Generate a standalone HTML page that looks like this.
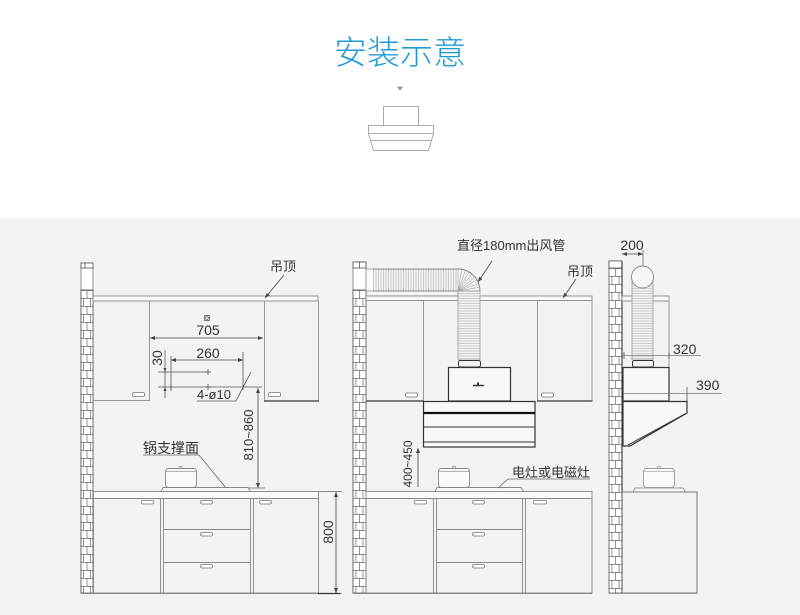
<!DOCTYPE html>
<html><head><meta charset="utf-8">
<style>
html,body{margin:0;padding:0;background:#fff;}
svg{display:block;}
text{font-family:"Liberation Sans","Noto Sans CJK SC",sans-serif;fill:#333;}
</style></head>
<body>
<svg width="800" height="615" viewBox="0 0 800 615" xmlns="http://www.w3.org/2000/svg">
<defs>
  <pattern id="brL" x="81" y="290" width="12" height="16" patternUnits="userSpaceOnUse">
    <rect width="12" height="16" fill="#fff"/>
    <path d="M0 0.5H12M0 8.5H12M6 0.5V8.5M2.5 8.5V16M9.5 8.5V16" stroke="#666" stroke-width="0.7" fill="none"/>
  </pattern>
  <pattern id="brM" x="353" y="290" width="13" height="16" patternUnits="userSpaceOnUse">
    <rect width="13" height="16" fill="#fff"/>
    <path d="M0 0.5H13M0 8.5H13M6.5 0.5V8.5M3 8.5V16M10 8.5V16" stroke="#666" stroke-width="0.7" fill="none"/>
  </pattern>
  <pattern id="brR" x="609" y="268" width="13" height="16" patternUnits="userSpaceOnUse">
    <rect width="13" height="16" fill="#fff"/>
    <path d="M0 0.5H13M0 8.5H13M6.5 0.5V8.5M3 8.5V16M10 8.5V16" stroke="#666" stroke-width="0.7" fill="none"/>
  </pattern>
  <pattern id="vstripe" x="0" y="0" width="2.5" height="4" patternUnits="userSpaceOnUse">
    <rect width="2.5" height="4" fill="#f2f2f2"/>
    <line x1="1" y1="0" x2="1" y2="4" stroke="#a8a8a8" stroke-width="0.5"/>
  </pattern>
  <pattern id="hstripe" x="0" y="0" width="4" height="2.5" patternUnits="userSpaceOnUse">
    <rect width="4" height="2.5" fill="#f2f2f2"/>
    <line x1="0" y1="1" x2="4" y2="1" stroke="#a8a8a8" stroke-width="0.5"/>
  </pattern>
  <marker id="ar" viewBox="0 0 10 10" refX="10" refY="5" markerWidth="5" markerHeight="5" orient="auto-start-reverse" markerUnits="userSpaceOnUse">
    <path d="M0 1L10 5L0 9Z" fill="#444"/>
  </marker>
</defs>

<!-- backgrounds -->
<rect x="0" y="0" width="800" height="218" fill="#fff"/>
<rect x="0" y="218" width="800" height="397" fill="#f3f3f3"/>

<!-- title -->
<text x="400" y="64" font-size="33" text-anchor="middle" style="fill:#1e9ad6;font-family:'Liberation Sans','Noto Sans CJK SC',sans-serif;font-weight:300">安装示意</text>
<path d="M397 86.5H403L400 91Z" fill="#999"/>
<g stroke="#aaa" stroke-width="1" fill="#fff">
  <rect x="383.5" y="106.5" width="35" height="19"/>
  <rect x="368.5" y="125.5" width="65" height="8"/>
  <path d="M368.5 133.5H433.5L428.5 150.5H373.5Z"/>
  <line x1="370" y1="140.5" x2="432" y2="140.5"/>
</g>

<!-- ================= LEFT DIAGRAM ================= -->
<g>
  <rect x="81" y="263" width="12" height="330" fill="#fff" stroke="#777" stroke-width="0.8"/>
  <rect x="81" y="290" width="12" height="303" fill="url(#brL)" stroke="#555" stroke-width="0.8"/>
  <rect x="81" y="263" width="12" height="5" fill="#fff" stroke="#555" stroke-width="0.8"/>
  <line x1="85" y1="263" x2="85" y2="268" stroke="#555" stroke-width="0.8"/>
  <!-- ceiling -->
  <rect x="93" y="296" width="225" height="5" fill="#fafafa" stroke="#888" stroke-width="0.9"/>
  <!-- upper cabinets -->
  <g stroke="#999" stroke-width="1" fill="none">
    <path d="M149.5 301V400.5H93"/>
    <path d="M264.5 301V401M318.5 301V401"/>
  </g>
  <line x1="264" y1="401" x2="319" y2="401" stroke="#555" stroke-width="1.6"/>
  <rect x="132.5" y="392.5" width="12" height="4" rx="1.5" fill="#fff" stroke="#777" stroke-width="0.8"/>
  <rect x="268.5" y="392.5" width="12" height="4" rx="1.5" fill="#fff" stroke="#777" stroke-width="0.8"/>
  <!-- 705 -->
  <rect x="204.5" y="315.5" width="5" height="5" fill="none" stroke="#444" stroke-width="0.7"/>
  <circle cx="207" cy="318" r="1.4" fill="none" stroke="#444" stroke-width="0.6"/>
  <text x="208" y="335" font-size="14" text-anchor="middle">705</text>
  <line x1="150" y1="338" x2="263" y2="338" stroke="#444" stroke-width="0.8" marker-start="url(#ar)" marker-end="url(#ar)"/>
  <!-- 260 -->
  <text x="208" y="358" font-size="14" text-anchor="middle">260</text>
  <line x1="171" y1="360" x2="243" y2="360" stroke="#444" stroke-width="0.8" marker-start="url(#ar)" marker-end="url(#ar)"/>
  <g stroke="#555" stroke-width="0.8">
    <line x1="171" y1="356" x2="171" y2="391"/>
    <line x1="243" y1="352" x2="243" y2="389"/>
    <line x1="158" y1="372" x2="208" y2="372"/>
    <line x1="158" y1="387" x2="262" y2="387"/>
    <line x1="165" y1="350" x2="165" y2="398"/>
    <line x1="205" y1="372" x2="211" y2="372"/><line x1="208" y1="369" x2="208" y2="375"/>
    <line x1="205" y1="387" x2="211" y2="387"/><line x1="208" y1="384" x2="208" y2="390"/>
    <line x1="171" y1="384" x2="171" y2="390"/>
    <line x1="243" y1="384" x2="243" y2="390"/>
  </g>
  <path d="M163.5 368L165 372L166.5 368Z" fill="#444"/>
  <path d="M163.5 391L165 387L166.5 391Z" fill="#444"/>
  <text transform="translate(162,358) rotate(-90)" font-size="14" text-anchor="middle">30</text>
  <!-- 4-ø10 -->
  <text x="197" y="399" font-size="13">4-ø10</text>
  <path d="M197 401H236L251 372" stroke="#555" stroke-width="0.8" fill="none"/>
  <!-- 810~860 -->
  <line x1="258" y1="388" x2="258" y2="488" stroke="#444" stroke-width="0.8" marker-start="url(#ar)" marker-end="url(#ar)"/>
  <text transform="translate(253,435) rotate(-90)" font-size="13" text-anchor="middle">810~860</text>
  <line x1="230" y1="488" x2="265" y2="488" stroke="#666" stroke-width="0.8"/>
  <!-- 吊顶 -->
  <text x="270" y="271" font-size="13">吊顶</text>
  <line x1="284" y1="275" x2="265" y2="298" stroke="#444" stroke-width="0.8" marker-end="url(#ar)"/>
  <!-- 锅支撑面 -->
  <text x="143" y="453" font-size="14">锅支撑面</text>
  <path d="M143 455H199L226 488" stroke="#666" stroke-width="0.8" fill="none"/>
  <!-- pot & cooktop -->
  <path d="M161 491.5L163 487.5H248L250.5 491.5" fill="#f8f8f8" stroke="#888" stroke-width="0.9"/>
  <rect x="165.5" y="468.5" width="31" height="19" rx="3" fill="#fafafa" stroke="#888" stroke-width="0.9"/>
  <line x1="165.5" y1="471.5" x2="196.5" y2="471.5" stroke="#999" stroke-width="0.7"/>
  <path d="M179 468.5V466.5H182V468.5" fill="none" stroke="#888" stroke-width="0.7"/>
  <!-- counter -->
  <line x1="93" y1="491.5" x2="342" y2="491.5" stroke="#888" stroke-width="0.9"/>
  <rect x="93.5" y="491.5" width="225" height="7" fill="#fafafa" stroke="#888" stroke-width="0.9"/>
  <g stroke="#888" stroke-width="0.9" fill="none">
    <rect x="93.5" y="498.5" width="225" height="94.5"/>
    <path d="M160.5 498.5V593M163.5 498.5V593M250.5 498.5V593M253.5 498.5V593"/>
    <path d="M163.5 529.5H250.5M163.5 562.5H250.5"/>
    <path d="M81 593.5H342"/>
  </g>
  <g fill="#fff" stroke="#777" stroke-width="0.8">
    <rect x="141.5" y="500.5" width="12" height="3.5" rx="1.5"/>
    <rect x="200.5" y="500.5" width="12" height="3.5" rx="1.5"/>
    <rect x="200.5" y="532.5" width="12" height="3.5" rx="1.5"/>
    <rect x="200.5" y="564.5" width="12" height="3.5" rx="1.5"/>
    <rect x="259.5" y="500.5" width="12" height="3.5" rx="1.5"/>
  </g>
  <!-- 800 -->
  <line x1="336" y1="492" x2="336" y2="593" stroke="#444" stroke-width="0.8" marker-start="url(#ar)" marker-end="url(#ar)"/>
  <line x1="318" y1="593.5" x2="340" y2="593.5" stroke="#333" stroke-width="1.2"/>
  <text transform="translate(333,532) rotate(-90)" font-size="14" text-anchor="middle">800</text>
</g>

<!-- ================= MIDDLE DIAGRAM ================= -->
<g>
  <rect x="353" y="262" width="13" height="331" fill="#fff" stroke="#777" stroke-width="0.8"/>
  <rect x="353" y="290" width="13" height="303" fill="url(#brM)" stroke="#555" stroke-width="0.8"/>
  <rect x="353" y="262" width="13" height="6" fill="#fff" stroke="#555" stroke-width="0.8"/>
  <line x1="359.5" y1="262" x2="359.5" y2="268" stroke="#555" stroke-width="0.8"/>
  <!-- ceiling -->
  <rect x="366" y="296" width="226" height="4.5" fill="#fafafa" stroke="#888" stroke-width="0.9"/>
  <!-- upper cabinets -->
  <g stroke="#999" stroke-width="1" fill="none">
    <path d="M423.5 300.5V401M537.5 300.5V401M592 300.5V401"/>
  </g>
  <line x1="366" y1="401" x2="424" y2="401" stroke="#555" stroke-width="1.4"/>
  <line x1="537" y1="401" x2="592.5" y2="401" stroke="#555" stroke-width="1.4"/>
  <rect x="405.5" y="393" width="12" height="4" rx="1.5" fill="#fff" stroke="#777" stroke-width="0.8"/>
  <rect x="541.5" y="393" width="12" height="4" rx="1.5" fill="#fff" stroke="#777" stroke-width="0.8"/>
  <!-- duct -->
  <rect x="366" y="269" width="92" height="22" fill="#f8f8f8" stroke="#999" stroke-width="0.8"/>
  <rect x="373" y="269" width="85" height="22" fill="url(#vstripe)"/>
  <path d="M458 291V269A22 22 0 0 1 480 291Z" fill="#f2f2f2"/>
  <g stroke="#999" stroke-width="0.5">
    <line x1="458" y1="291" x2="458" y2="269"/>
    <line x1="458" y1="291" x2="461.8" y2="269.3"/>
    <line x1="458" y1="291" x2="465.5" y2="270.3"/>
    <line x1="458" y1="291" x2="469" y2="272"/>
    <line x1="458" y1="291" x2="472.1" y2="274.1"/>
    <line x1="458" y1="291" x2="474.9" y2="276.9"/>
    <line x1="458" y1="291" x2="477" y2="280"/>
    <line x1="458" y1="291" x2="478.7" y2="283.5"/>
    <line x1="458" y1="291" x2="479.7" y2="287.2"/>
    <line x1="458" y1="291" x2="480" y2="291"/>
  </g>
  <path d="M373 269H458A22 22 0 0 1 480 291" fill="none" stroke="#888" stroke-width="0.9"/>
  <line x1="373" y1="291" x2="458" y2="291" stroke="#888" stroke-width="0.9"/>
  <rect x="458" y="291" width="22" height="69" fill="url(#hstripe)" stroke="#999" stroke-width="0.8"/>
  <rect x="458.5" y="360.5" width="22" height="6.5" rx="2" fill="#f4f4f4" stroke="#333" stroke-width="1"/>
  <!-- hood -->
  <rect x="448.5" y="367.5" width="62" height="33.5" fill="#f8f8f8" stroke="#333" stroke-width="1.2"/>
  <path d="M473 385.5H484" stroke="#333" stroke-width="1.5"/>
  <rect x="477" y="382.5" width="2" height="3" fill="#333"/>
  <rect x="423.5" y="401.5" width="111.5" height="45.5" fill="#f8f8f8" stroke="#333" stroke-width="1.2"/>
  <line x1="423.5" y1="413" x2="535" y2="413" stroke="#111" stroke-width="2.2"/>
  <line x1="423.5" y1="427" x2="535" y2="427" stroke="#333" stroke-width="1.1"/>
  <line x1="423.5" y1="442" x2="535" y2="442" stroke="#333" stroke-width="1"/>
  <!-- labels -->
  <text x="457" y="250" font-size="13">直径180mm出风管</text>
  <line x1="492" y1="261" x2="478" y2="282" stroke="#444" stroke-width="0.8" marker-end="url(#ar)"/>
  <text x="567" y="276" font-size="13">吊顶</text>
  <line x1="576" y1="279" x2="563" y2="298" stroke="#444" stroke-width="0.8" marker-end="url(#ar)"/>
  <!-- 400~450 -->
  <line x1="418" y1="448" x2="418" y2="487" stroke="#444" stroke-width="0.8" marker-start="url(#ar)"/>
  <text transform="translate(412,464) rotate(-90)" font-size="12" text-anchor="middle">400~450</text>
  <!-- pot & cooktop -->
  <path d="M435 491.5L437 487.5H521L523.5 491.5" fill="#f8f8f8" stroke="#888" stroke-width="0.9"/>
  <rect x="438.5" y="468.5" width="31" height="19" rx="3" fill="#fafafa" stroke="#888" stroke-width="0.9"/>
  <line x1="438.5" y1="471.5" x2="469.5" y2="471.5" stroke="#999" stroke-width="0.7"/>
  <path d="M452.5 468.5V466.5H455.5V468.5" fill="none" stroke="#888" stroke-width="0.7"/>
  <text x="512" y="477" font-size="13">电灶或电磁灶</text>
  <path d="M590 479H508L498 488" stroke="#666" stroke-width="0.8" fill="none"/>
  <!-- counter -->
  <rect x="366" y="491.5" width="226" height="7" fill="#fafafa" stroke="#888" stroke-width="0.9"/>
  <g stroke="#888" stroke-width="0.9" fill="none">
    <rect x="366" y="498.5" width="226" height="94.5"/>
    <path d="M433.5 498.5V593M436.5 498.5V593M522.5 498.5V593M525.5 498.5V593"/>
    <path d="M436.5 529.5H522.5M436.5 562.5H522.5"/>
    <path d="M353 593.5H592"/>
  </g>
  <g fill="#fff" stroke="#777" stroke-width="0.8">
    <rect x="414.5" y="500.5" width="12" height="3.5" rx="1.5"/>
    <rect x="472.5" y="500.5" width="12" height="3.5" rx="1.5"/>
    <rect x="472.5" y="532.5" width="12" height="3.5" rx="1.5"/>
    <rect x="472.5" y="564.5" width="12" height="3.5" rx="1.5"/>
    <rect x="533.5" y="500.5" width="13" height="3.5" rx="1.5"/>
  </g>
</g>

<!-- ================= RIGHT DIAGRAM ================= -->
<g>
  <rect x="609" y="261" width="13" height="332" fill="url(#brR)" stroke="#555" stroke-width="0.8"/>
  <rect x="609" y="261" width="13" height="7" fill="#fff" stroke="#555" stroke-width="0.8"/>
  <line x1="622" y1="261" x2="622" y2="593" stroke="#444" stroke-width="1.2"/>
  <!-- 200 -->
  <text x="632" y="250" font-size="14" text-anchor="middle">200</text>
  <line x1="622" y1="254" x2="643" y2="254" stroke="#444" stroke-width="0.8" marker-start="url(#ar)" marker-end="url(#ar)"/>
  <line x1="643" y1="250" x2="643" y2="277" stroke="#555" stroke-width="0.7"/>
  <!-- ceiling -->
  <rect x="622" y="296" width="47" height="5" fill="#fafafa" stroke="#888" stroke-width="0.9"/>
  <line x1="669" y1="296" x2="669" y2="367" stroke="#999" stroke-width="1"/>
  <!-- duct -->
  <rect x="632" y="277" width="21" height="83" fill="url(#hstripe)" stroke="#999" stroke-width="0.8"/>
  <circle cx="642.5" cy="277" r="11" fill="#f6f6f6" stroke="#888" stroke-width="0.9"/>
  <rect x="632.5" y="360.5" width="21" height="6.5" rx="2" fill="#f4f4f4" stroke="#333" stroke-width="1"/>
  <!-- hood -->
  <rect x="623" y="367.5" width="46" height="33.5" fill="#f8f8f8" stroke="#333" stroke-width="1.2"/>
  <path d="M623 401.5H687V413L630 446H623Z" fill="#f8f8f8" stroke="#333" stroke-width="1.2"/>
  <path d="M685 414L628 445" stroke="#333" stroke-width="1"/>
  <!-- 320 -->
  <text x="673" y="354" font-size="14">320</text>
  <line x1="623" y1="355.5" x2="701" y2="355.5" stroke="#777" stroke-width="0.8"/>
  <line x1="624" y1="352" x2="624" y2="359" stroke="#555" stroke-width="0.8"/>
  <line x1="669" y1="352" x2="669" y2="359" stroke="#555" stroke-width="0.8"/>
  <!-- 390 -->
  <text x="696" y="390" font-size="14">390</text>
  <line x1="623" y1="393.5" x2="722" y2="393.5" stroke="#777" stroke-width="0.8"/>
  <line x1="687" y1="387" x2="687" y2="401" stroke="#555" stroke-width="0.8"/>
  <!-- pot & counter -->
  <path d="M633 492L635 488H683L685.5 492" fill="#f8f8f8" stroke="#999" stroke-width="0.9"/>
  <rect x="643.5" y="468.5" width="31" height="19" rx="3" fill="#fafafa" stroke="#999" stroke-width="0.9"/>
  <line x1="643.5" y1="471.5" x2="674.5" y2="471.5" stroke="#aaa" stroke-width="0.7"/>
  <path d="M657.5 468.5V466.5H660.5V468.5" fill="none" stroke="#999" stroke-width="0.7"/>
  <rect x="622" y="492" width="75" height="101" fill="none" stroke="#777" stroke-width="1"/>
  <line x1="609" y1="593.5" x2="697" y2="593.5" stroke="#999" stroke-width="0.9"/>
</g>
</svg>
</body></html>
